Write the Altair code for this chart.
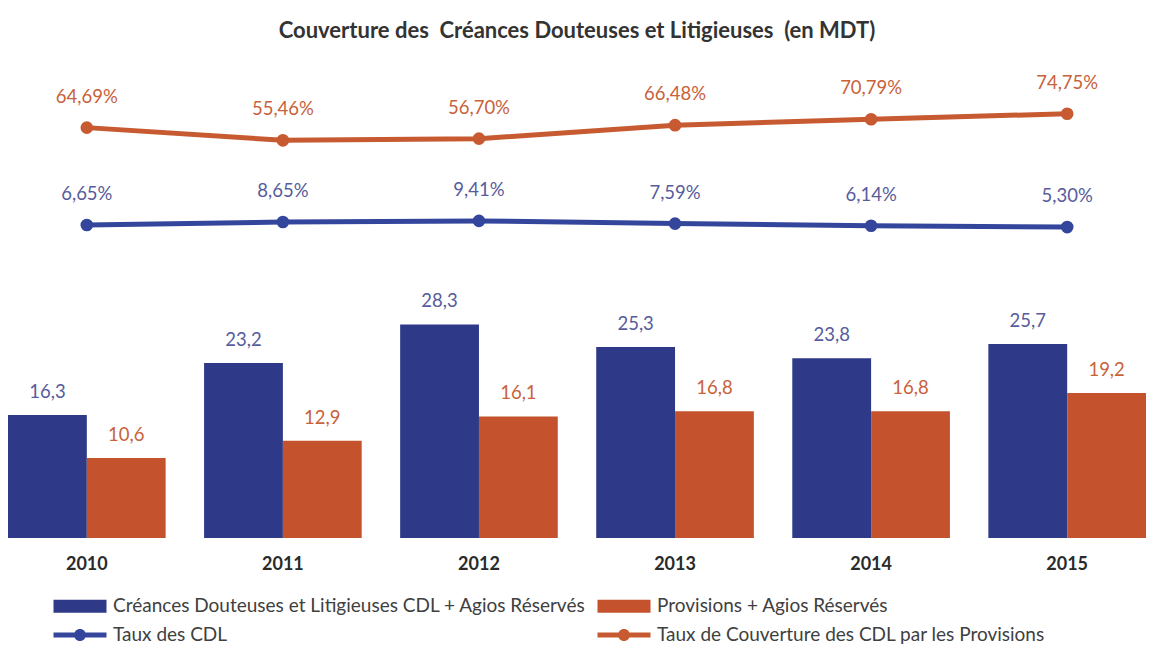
import altair as alt
import pandas as pd

# ---- data ----
years = ["2010", "2011", "2012", "2013", "2014", "2015"]
cdl = [16.3, 23.2, 28.3, 25.3, 23.8, 25.7]
provisions = [10.6, 12.9, 16.1, 16.8, 16.8, 19.2]
taux_cdl = [6.65, 8.65, 9.41, 7.59, 6.14, 5.30]
taux_couv = [64.69, 55.46, 56.70, 66.48, 70.79, 74.75]

s_cdl = "Créances Douteuses et Litigieuses CDL + Agios Réservés"
s_prov = "Provisions + Agios Réservés"
s_tcdl = "Taux des CDL"
s_tcouv = "Taux de Couverture des CDL par les Provisions"
bar_series = [s_cdl, s_prov]
all_series = [s_cdl, s_prov, s_tcdl, s_tcouv]

NAVY = "#2E3A87"
ORANGE = "#C4532D"
BLUE_LINE = "#34469C"
ORANGE_LINE = "#C75A30"
BLUE_TXT = "#575C9C"
ORANGE_TXT = "#C8623A"
FONT = "Lato"

df_cdl = pd.DataFrame({"year": years, "series": s_cdl, "value": cdl})
df_prov = pd.DataFrame({"year": years, "series": s_prov, "value": provisions})
df_tcdl = pd.DataFrame({"year": years, "series": s_tcdl, "value": taux_cdl})
df_tcouv = pd.DataFrame({"year": years, "series": s_tcouv, "value": taux_couv})
df_leg = pd.DataFrame({"series": all_series})

x_enc = alt.X(
    "year:N",
    sort=years,
    title=None,
    scale=alt.Scale(paddingInner=0.196, paddingOuter=0),
    axis=alt.Axis(
        domain=False, ticks=False, tickSize=0, labelPadding=17, labelAngle=0,
        labelFontSize=18, labelFontWeight="bold", labelFont=FONT, labelColor="#2A2A2A",
    ),
)
xoff = alt.XOffset("series:N", scale=alt.Scale(domain=bar_series, paddingInner=0, paddingOuter=0))
y_bar = alt.Y("value:Q", scale=alt.Scale(domain=[0, 63.2], nice=False, zero=False), axis=None)
y_couv = alt.Y("value:Q", scale=alt.Scale(domain=[-232.9, 113.0], nice=False, zero=False), axis=None)
y_tcdl = alt.Y("value:Q", scale=alt.Scale(domain=[-202, 116], nice=False, zero=False), axis=None)


def bar_layer(df, color, txtcolor):
    base = alt.Chart(df).encode(x=x_enc, xOffset=xoff, y=y_bar)
    bars = base.mark_bar(color=color)
    txt = base.transform_calculate(
        lab="replace(format(datum.value, '.1f'), '.', ',')"
    ).mark_text(dy=-23, fontSize=18.5, font=FONT, color=txtcolor, baseline="middle").encode(
        text="lab:N"
    )
    return alt.layer(bars, txt)


def line_layer(df, y_enc, color, txtcolor):
    base = alt.Chart(df).encode(x=x_enc, y=y_enc)
    line = base.mark_line(color=color, strokeWidth=5)
    pts = base.mark_point(filled=True, color=color, size=160, opacity=1)
    txt = base.transform_calculate(
        lab="replace(format(datum.value, '.2f'), '.', ',') + '%'"
    ).mark_text(dy=-31, fontSize=18.5, font=FONT, color=txtcolor, baseline="middle").encode(
        text="lab:N"
    )
    return alt.layer(line, pts, txt)


# legend symbols: unit = 8px (symbolSize 256); drawn 53px wide, starting at the entry's left edge
bar_sym = "M-1,-0.8125H5.625V0.8125H-1Z"
line_sym = ("M-1,-0.3125H5.625V0.3125H-1Z "
            "M3.0625,0A0.75,0.75 0 1,1 1.5625,0A0.75,0.75 0 1,1 3.0625,0Z")

leg = dict(
    title=None, orient="none", legendX=44, legendY=535.5, columns=2, direction="horizontal",
    symbolSize=256, symbolOpacity=1, symbolStrokeWidth=0,
    labelFontSize=19, labelFont=FONT, labelColor="#404040", labelLimit=700,
    labelOffset=42, columnPadding=10, rowPadding=9,
)

legend_layer = alt.Chart(df_leg).mark_point(filled=True, opacity=0).encode(
    color=alt.Color(
        "series:N",
        scale=alt.Scale(domain=all_series, range=[NAVY, ORANGE, BLUE_LINE, ORANGE_LINE]),
        legend=alt.Legend(**leg),
    ),
    shape=alt.Shape(
        "series:N",
        scale=alt.Scale(domain=all_series, range=[bar_sym, bar_sym, line_sym, line_sym]),
        legend=alt.Legend(**leg),
    ),
)

chart = alt.layer(
    bar_layer(df_cdl, NAVY, BLUE_TXT),
    bar_layer(df_prov, ORANGE, ORANGE_TXT),
    line_layer(df_tcouv, y_couv, ORANGE_LINE, ORANGE_TXT),
    line_layer(df_tcdl, y_tcdl, BLUE_LINE, BLUE_TXT),
    legend_layer,
).resolve_scale(
    y="independent"
).properties(
    width=1138,
    height=477,
    padding={"left": 0, "right": 0, "top": 12, "bottom": 0},
    title=alt.TitleParams(
        "Couverture des\u00a0 Créances Douteuses et Litigieuses\u00a0 (en MDT)",
        fontSize=22, font=FONT, fontWeight="bold", color="#333333",
        anchor="middle", offset=18,
    ),
).configure_view(stroke=None)

chart.save("out.html", embed_options={"renderer": "svg", "actions": False})
